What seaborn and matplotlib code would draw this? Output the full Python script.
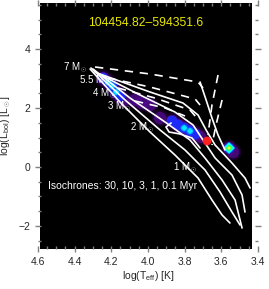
import numpy as np
import pandas as pd
import matplotlib
matplotlib.use("Agg")
import matplotlib.pyplot as plt
from matplotlib.patches import Rectangle
import seaborn as sns

sns.set_style("white")
plt.rcParams['font.family'] = ['Liberation Sans', 'DejaVu Sans']
plt.rcParams['mathtext.fontset'] = 'custom'
plt.rcParams['mathtext.rm'] = 'Liberation Sans'
plt.rcParams['mathtext.it'] = 'Liberation Sans'

title = "104454.82\u2013594351.6"

# isochrones (log Teff, log L)
iso_01_x = [4.262, 3.989, 3.809, 3.727, 3.683, 3.634, 3.542, 3.471, 3.443]
iso_01_y = [3.153, 2.542, 2.169, 1.763, 1.254, 0.746, 0.136, -0.373, -0.712]
iso_1_x = [4.289, 4.044, 3.853, 3.754, 3.700, 3.634, 3.542, 3.487, 3.471]
iso_1_y = [3.220, 2.441, 1.864, 1.424, 0.915, 0.305, -0.271, -0.949, -1.525]
iso_3_x = [4.300, 4.098, 3.907, 3.771, 3.689, 3.596, 3.525, 3.487]
iso_3_y = [3.322, 2.339, 1.525, 0.915, 0.305, -0.441, -1.119, -2.068]
iso_10_x = [4.311, 4.125, 3.934, 3.798, 3.689, 3.607, 3.542, 3.498]
iso_10_y = [3.356, 2.271, 1.254, 0.576, -0.102, -0.847, -1.525, -1.966]
iso_30_x = [4.316, 4.153, 3.989, 3.853, 3.727, 3.651, 3.596, 3.553]
iso_30_y = [3.322, 2.203, 1.186, 0.407, -0.373, -1.119, -1.627, -1.898]
birth_x = [3.716, 3.683, 3.651, 3.618, 3.580]
birth_y = [2.881, 2.271, 1.661, 1.085, 0.576]
trk2_x = [3.874, 3.902, 3.885, 3.825, 3.760, 3.716]
trk2_y = [1.492, 1.356, 1.186, 1.119, 0.983, 0.644]

# dashed evolutionary tracks
trk7_x = [4.289, 3.989, 3.727, 3.700]
trk7_y = [3.390, 3.153, 2.881, 2.678]
trk55_x = [4.218, 3.989, 3.743, 3.716]
trk55_y = [3.017, 2.712, 2.305, 2.102]
trk4_x = [4.164, 3.962, 3.771, 3.738]
trk4_y = [2.678, 2.339, 1.932, 1.695]
trk3_x = [4.071, 3.907, 3.798]
trk3_y = [2.237, 2.000, 1.729]
hay_a_x = [3.618, 3.651, 3.673]
hay_a_y = [3.119, 2.102, 1.085]
hay_b_x = [3.596, 3.629, 3.651]
hay_b_y = [2.271, 1.424, 0.746]

# density map peaks (position, intensity level 1..5)
blob_x = [4.245, 4.218, 4.196, 4.174, 4.153, 4.131,
          4.071, 4.033, 3.989,
          3.934, 3.869, 3.836, 3.803, 3.771, 3.743, 3.716,
          3.536, 3.558]
blob_y = [3.017, 2.881, 2.746, 2.542, 2.407, 2.271,
          2.271, 2.169, 2.102,
          1.661, 1.559, 1.424, 1.322, 1.220, 1.119, 1.017,
          0.508, 0.644]
blob_lvl = [2, 3, 3, 3, 2, 1,
            1, 1, 1,
            1, 2, 2, 3, 3, 2, 1,
            1, 5]

# source position
src_x = [3.678]
src_y = [0.881]

mass_labels = ["7 M$_\\odot$", "5.5 M$_\\odot$", "4 M$_\\odot$", "3 M$_\\odot$", "2 M$_\\odot$", "1 M$_\\odot$"]
mass_lab_x = [4.464, 4.376, 4.305, 4.224, 4.098, 3.864]
mass_lab_y = [3.356, 2.930, 2.470, 2.034, 1.322, -0.034]
iso_text = "Isochrones: 30, 10, 3, 1, 0.1 Myr"
iso_text_x = 4.545
iso_text_y = -0.644

xticks = [4.6, 4.4, 4.2, 4.0, 3.8, 3.6, 3.4]
yticks = [-2, 0, 2, 4]

fig = plt.figure(figsize=(2.69, 2.89), dpi=100)
ax = fig.add_axes([38/269, 40/289, 220/269, 246/289])
ax.set_facecolor('white')
ax.add_patch(Rectangle((0.009, 0), 0.964, 1, transform=ax.transAxes,
                       color='black', zorder=0, lw=0))

blobs = pd.DataFrame({"x": blob_x, "y": blob_y, "lvl": blob_lvl})
layers = [(1, '#30004c', 150, 'o', 0.5),
          (1, '#500c90', 80, 'o', 0.75),
          (2, '#1a2cff', 60, 'o', 0.9),
          (3, '#0090ff', 26, 'o', 0.9),
          (3, '#00e8ff', 10, 'D', 1.0),
          (5, '#00ffff', 36, 'D', 1.0),
          (5, '#40ff50', 14, 'D', 1.0),
          (5, '#ffff30', 3, 'D', 1.0)]
for lvl, col, size, mk, a in layers:
    sub = blobs[blobs["lvl"] >= lvl]
    sns.scatterplot(data=sub, x="x", y="y", color=col, s=size, marker=mk,
                    alpha=a, edgecolor='none', linewidth=0, ax=ax, zorder=1)

solid = [(iso_01_x, iso_01_y), (iso_1_x, iso_1_y), (iso_3_x, iso_3_y),
         (iso_10_x, iso_10_y), (iso_30_x, iso_30_y), (birth_x, birth_y),
         (trk2_x, trk2_y)]
for xs, ys in solid:
    sns.lineplot(x=xs, y=ys, sort=False, estimator=None, color='white',
                 lw=1.2, ax=ax, zorder=3)
dashed = [(trk7_x, trk7_y), (trk55_x, trk55_y), (trk4_x, trk4_y),
          (trk3_x, trk3_y), (hay_a_x, hay_a_y), (hay_b_x, hay_b_y)]
for xs, ys in dashed:
    sns.lineplot(x=xs, y=ys, sort=False, estimator=None, color='white',
                 lw=1.2, ax=ax, zorder=3, linestyle=(0, (5, 4)))

sns.scatterplot(x=src_x, y=src_y, color='#ff2020', s=40, edgecolor='none',
                ax=ax, zorder=4)

for t, x, y in zip(mass_labels, mass_lab_x, mass_lab_y):
    ax.text(x, y, t, color='white', fontsize=7, ha='left', va='center', zorder=2)
ax.text(iso_text_x, iso_text_y, iso_text, color='white', fontsize=7.5,
        ha='left', va='center', zorder=2)
ax.text(0.49, 0.919, title, transform=ax.transAxes, color='#e8e800',
        fontsize=8.8, ha='center', va='center')

ax.set_xlim(4.6, 3.4)
ax.set_ylim(-2.78, 5.56)
ax.set_xticks(xticks)
ax.set_xticklabels([f"{v:.1f}" for v in xticks])
ax.set_yticks(yticks)
ax.set_yticklabels([f"{v}".replace('-', '\u2212') for v in yticks])
ax.xaxis.set_minor_locator(matplotlib.ticker.MultipleLocator(0.05))
ax.yaxis.set_minor_locator(matplotlib.ticker.MultipleLocator(0.5))
ax.tick_params(which='major', direction='inout', length=5, color='#808080',
               width=1, labelsize=7.5, pad=3, top=True, right=True,
               bottom=True, left=True)
ax.tick_params(which='minor', direction='in', length=2.5, color='#808080',
               width=1, top=True, right=True, bottom=True, left=True)
for s in ax.spines.values():
    s.set_visible(False)
ax.set_xlabel("log(T$_{\\mathrm{eff}}$) [K]", fontsize=7.5, labelpad=2)
ax.set_ylabel("log(L$_{\\mathrm{bol}}$) [L$_\\odot$]", fontsize=7.5, labelpad=4)

fig.savefig("out.png", dpi=100)
